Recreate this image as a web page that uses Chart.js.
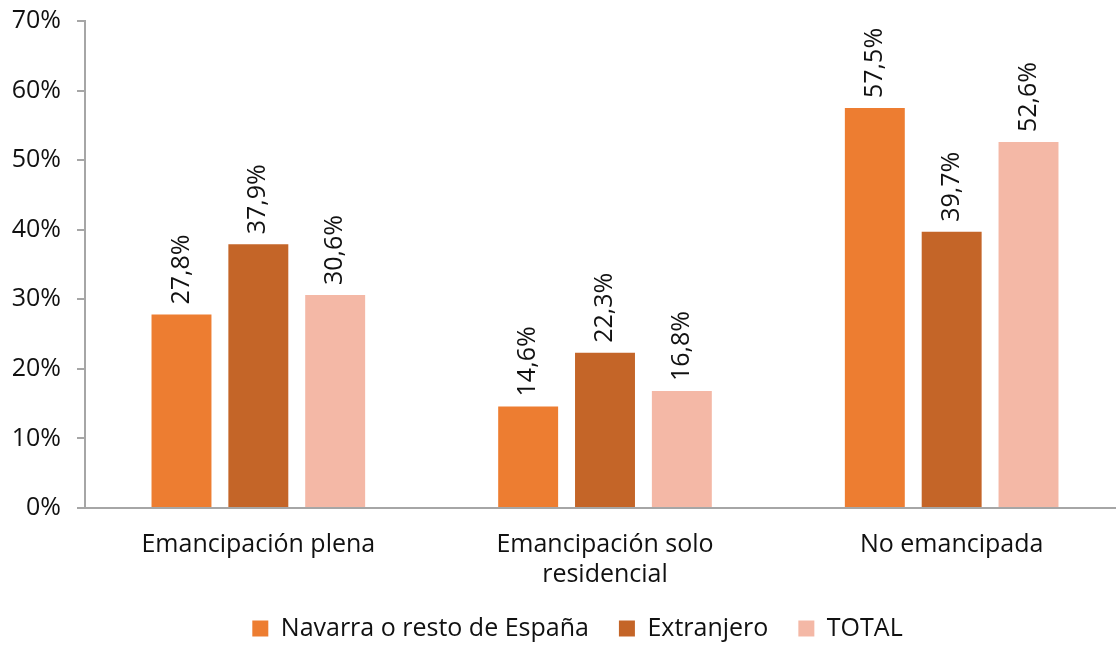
<!DOCTYPE html>
<html>
<head>
<meta charset="utf-8">
<script src="https://cdn.jsdelivr.net/npm/chart.js@4/dist/chart.umd.min.js"></script>
<style>
    html, body { margin: 0; padding: 0; background: #fff; overflow: hidden; }
    #wrap { width: 1126px; height: 646px; }
</style>
</head>
<body>
<div id="wrap"><canvas id="chart"></canvas></div>
<script>
const categories = [
    'Emancipación plena',
    ['Emancipación solo', 'residencial'],
    'No emancipada'
];
const seriesNames = ['Navarra o resto de España', 'Extranjero', 'TOTAL'];
const navarraValues = [27.8, 14.6, 57.5];
const extranjeroValues = [37.9, 22.3, 39.7];
const totalValues = [30.6, 16.8, 52.6];
const seriesColors = ['#ED7D31', '#C46528', '#F4B8A6'];

const FONT = "'Open Sans', 'Noto Sans', sans-serif";
const FONT_SIZE = 25;
const AXIS_GRAY = '#A6A6A6';

const fmt = v => v.toFixed(1).replace('.', ',') + '%';

// rotated value labels above each bar
const barLabels = {
    id: 'barLabels',
    afterDatasetsDraw(chart) {
        const ctx = chart.ctx;
        ctx.save();
        ctx.font = FONT_SIZE + 'px ' + FONT;
        ctx.fillStyle = '#111';
        ctx.textAlign = 'left';
        ctx.textBaseline = 'middle';
        chart.data.datasets.forEach((ds, i) => {
            const meta = chart.getDatasetMeta(i);
            meta.data.forEach((bar, j) => {
                ctx.save();
                ctx.translate(bar.x, bar.y - 10);
                ctx.rotate(-Math.PI / 2);
                ctx.fillText(fmt(ds.data[j]), 0, 0);
                ctx.restore();
            });
        });
        ctx.restore();
    }
};

// wide item gaps but a short legend box: nudge the legend into place
const legendShift = {
    id: 'legendShift',
    afterLayout(chart) {
        const lg = chart.legend;
        if (!lg) return;
        lg.left += 13;
        lg.right += 13;
        lg.top -= 18;
        lg.bottom = chart.height;
    }
};

const seriesValues = [navarraValues, extranjeroValues, totalValues];

new Chart(document.getElementById('chart'), {
    type: 'bar',
    data: {
        labels: categories,
        datasets: seriesNames.map((name, i) => ({
            label: name,
            data: seriesValues[i],
            backgroundColor: seriesColors[i],
            borderWidth: 0,
            barPercentage: 0.78,
            categoryPercentage: 0.665
        }))
    },
    options: {
        responsive: true,
        maintainAspectRatio: false,
        animation: false,
        layout: { padding: { left: 4, right: 1, top: 0, bottom: 0 } },
        scales: {
            x: {
                grid: { display: false },
                border: { color: AXIS_GRAY, width: 2 },
                ticks: { color: '#111', font: { family: FONT, size: FONT_SIZE }, padding: 14 }
            },
            y: {
                min: 0,
                max: 70,
                afterFit: axis => {
                    axis.width = 81;
                    axis.paddingTop = 21;
                },
                grid: { drawOnChartArea: false, color: AXIS_GRAY, tickLength: 8, lineWidth: 2 },
                border: { color: AXIS_GRAY, width: 2 },
                ticks: {
                    stepSize: 10,
                    color: '#111',
                    padding: 16,
                    font: { family: FONT, size: FONT_SIZE },
                    callback: v => v + '%'
                }
            }
        },
        plugins: {
            legend: {
                position: 'bottom',
                maxHeight: 42,
                labels: {
                    color: '#111',
                    font: { family: FONT, size: FONT_SIZE },
                    boxWidth: 16,
                    boxHeight: 16,
                    padding: 30
                }
            },
            tooltip: { enabled: false }
        }
    },
    plugins: [barLabels, legendShift]
});
</script>
</body>
</html>
